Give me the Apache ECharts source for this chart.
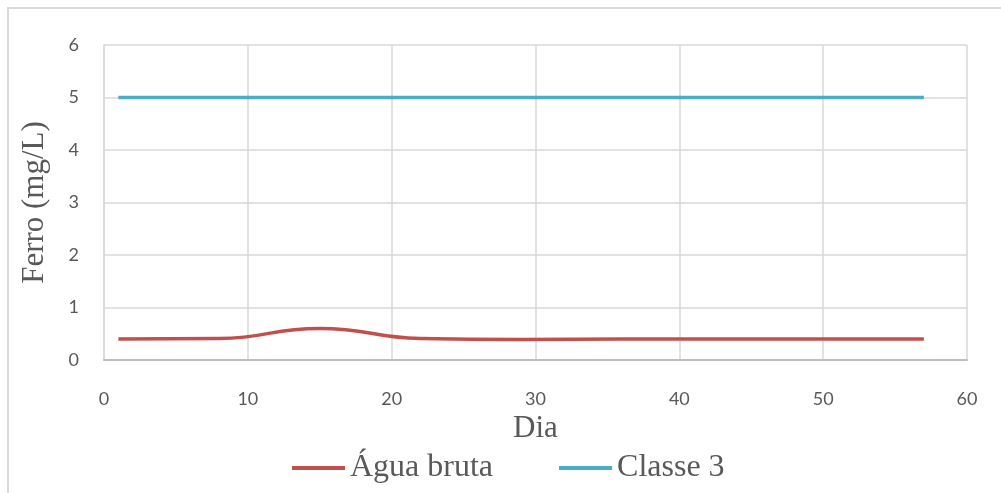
<!DOCTYPE html>
<html>
<head>
<meta charset="utf-8">
<script src="https://cdn.jsdelivr.net/npm/echarts@6/dist/echarts.min.js"></script>
<style>
  html, body { margin: 0; padding: 0; background: #fff; }
  #chart { width: 1001px; height: 493px; }
</style>
</head>
<body>
<div id="chart"></div>
<script>
// Sampling days (weekly) and measured iron concentration, mg/L
const dias = [1, 8, 15, 22, 29, 36, 43, 50, 57];
const aguaBruta = [0.40, 0.41, 0.60, 0.41, 0.39, 0.40, 0.40, 0.40, 0.40];
// CONAMA Classe 3 limit for dissolved iron
const classe3 = [5, 5, 5, 5, 5, 5, 5, 5, 5];

const xTicks = { min: 0, max: 60, interval: 10 };
const yTicks = { min: 0, max: 6, interval: 1 };

const pairs = (xs, ys) => xs.map((x, i) => [x, ys[i]]);

const chart = echarts.init(document.getElementById('chart'), null, { renderer: 'canvas' });

const tickFont = { color: '#595959', fontSize: 18, fontFamily: 'Lato, "Open Sans", sans-serif' };
const titleFont = { color: '#595959', fontSize: 31, fontFamily: '"Liberation Serif", "DejaVu Serif", serif' };

chart.setOption({
  backgroundColor: '#ffffff',
  animation: false,
  graphic: [{
    type: 'rect',
    shape: { x: 8, y: 8, width: 1100, height: 600 },
    style: { fill: 'none', stroke: '#d9d9d9', lineWidth: 2 },
    silent: true
  }],
  grid: { left: 104, right: 34, top: 45, bottom: 133, containLabel: false },
  xAxis: {
    type: 'value',
    min: xTicks.min, max: xTicks.max, interval: xTicks.interval,
    name: 'Dia',
    nameLocation: 'middle',
    nameGap: 50,
    nameTextStyle: titleFont,
    axisLine: { show: true, lineStyle: { color: '#bfbfbf', width: 2 } },
    axisTick: { show: false },
    axisLabel: Object.assign({ margin: 30 }, tickFont),
    splitLine: { show: true, lineStyle: { color: '#d9d9d9', width: 1.5 } }
  },
  yAxis: {
    type: 'value',
    min: yTicks.min, max: yTicks.max, interval: yTicks.interval,
    name: 'Ferro (mg/L)',
    nameLocation: 'middle',
    nameGap: 54,
    nameRotate: 90,
    nameTextStyle: titleFont,
    axisLine: { show: true, lineStyle: { color: '#d9d9d9', width: 1.5 } },
    axisTick: { show: false },
    axisLabel: Object.assign({ margin: 25 }, tickFont),
    splitLine: { show: true, lineStyle: { color: '#d9d9d9', width: 1.5 } }
  },
  legend: {
    bottom: 4,
    left: 287,
    padding: 5,
    icon: 'rect',
    itemWidth: 53,
    itemHeight: 4,
    itemGap: 66,
    textStyle: Object.assign({}, titleFont, { fontSize: 32 }),
    data: ['Água bruta', 'Classe 3']
  },
  series: [
    {
      name: 'Água bruta',
      type: 'line',
      data: pairs(dias, aguaBruta),
      smooth: 0.5,
      symbol: 'none',
      lineStyle: { color: '#c0504d', width: 3.5 },
      itemStyle: { color: '#c0504d' }
    },
    {
      name: 'Classe 3',
      type: 'line',
      data: pairs(dias, classe3),
      smooth: 0.5,
      symbol: 'none',
      lineStyle: { color: '#4bacc6', width: 3.5 },
      itemStyle: { color: '#4bacc6' }
    }
  ]
});
</script>
</body>
</html>
